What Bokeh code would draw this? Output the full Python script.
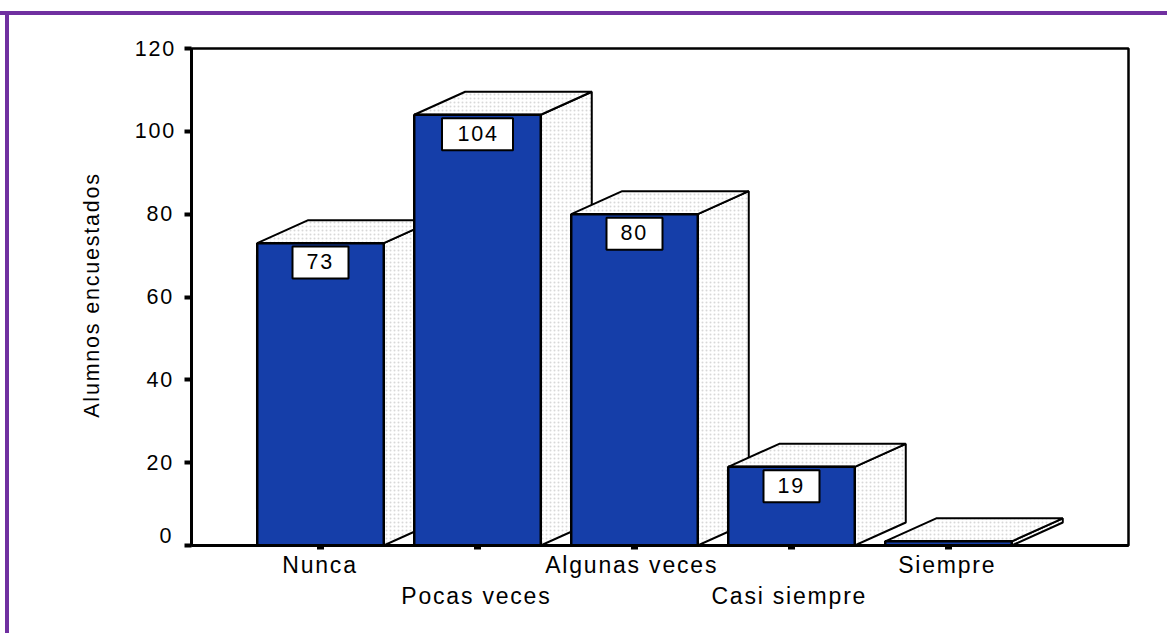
from math import pi
from bokeh.plotting import figure
from bokeh.models import Range1d, LinearAxis, FixedTicker
from bokeh.core.properties import value
from bokeh.embed import file_html
from bokeh.resources import INLINE

categories = ["Nunca", "Pocas veces", "Algunas veces", "Casi siempre", "Siempre"]
counts = [73, 104, 80, 19, 1]
shown_labels = ["73", "104", "80", "19", None]
y_ticks = [20, 40, 60, 80, 100, 120]
zero_tick = [0]
y_title = "Alumnos encuestados"
label_nudge_px = [-5, -11, -14.5, -13, -7.5]

BLUE = "#153ea9"
PURPLE = "#7030a0"
FONT = "Liberation Sans"
half = 0.403
depth_x = 51 / 157
depth_y = 23 / 4.1417
label_drop = 4.7

W, H = 1167, 633
css = {
    "position": "absolute", "left": "0", "top": "0", "letter-spacing": "1.8px",
    "background-image": f"linear-gradient({PURPLE},{PURPLE}),linear-gradient({PURPLE},{PURPLE})",
    "background-size": "100% 4px,4px 100%",
    "background-position": "0 11px,5px 11px",
    "background-repeat": "no-repeat",
}
p = figure(width=W, height=H, output_backend="svg", toolbar_location=None,
           x_range=Range1d((191 - 320) / 157, (1128 - 320) / 157), y_range=Range1d(0, 120),
           min_border_left=191, min_border_right=39, min_border_top=48, min_border_bottom=88,
           x_axis_type=None, y_axis_type=None, styles=css)
p.grid.visible = False
p.outline_line_color = "black"
p.outline_line_width = 2.5
p.background_fill_color = "white"
p.border_fill_color = None

yaxis = LinearAxis(ticker=FixedTicker(ticks=[0] + y_ticks), major_label_overrides={0: " "})
yaxis.major_label_text_font = FONT
yaxis.major_label_text_font_size = "21.5px"
yaxis.major_label_text_color = "black"
yaxis.major_label_standoff = 14
yaxis.major_tick_in = 0
yaxis.major_tick_out = 7
yaxis.major_tick_line_width = 4
yaxis.minor_tick_line_color = None
yaxis.axis_line_width = 3
p.add_layout(yaxis, "left")

# second left axis: holds the raised "0"
p.extra_y_ranges = {"zero": Range1d(-10 / 4.1417, 120 - 10 / 4.1417)}
y2 = LinearAxis(y_range_name="zero", ticker=FixedTicker(ticks=zero_tick))
y2.axis_line_color = None
y2.major_tick_line_color = None
y2.minor_tick_line_color = None
y2.major_tick_in = 0
y2.major_tick_out = 0
y2.major_label_text_font = FONT
y2.major_label_text_font_size = "21.5px"
y2.major_label_text_color = "black"
y2.major_label_standoff = -40
p.add_layout(y2, "left")

# third left axis: the title as a rotated label, so it can sit off the frame's centre
title_tick = 81.9
y3 = LinearAxis(ticker=FixedTicker(ticks=[title_tick]), major_label_overrides={title_tick: y_title})
y3.axis_line_color = None
y3.major_tick_line_color = None
y3.minor_tick_line_color = None
y3.major_tick_in = 0
y3.major_tick_out = 0
y3.major_label_orientation = pi / 2
y3.major_label_text_font = FONT
y3.major_label_text_font_size = "21.5px"
y3.major_label_text_color = "black"
y3.major_label_standoff = 39
p.add_layout(y3, "left")

idx = list(range(len(categories)))
x0 = LinearAxis(ticker=FixedTicker(ticks=idx), major_label_overrides={i: " " for i in idx})
x0.major_label_text_font_size = "1px"
x0.major_label_standoff = 0
x0.major_tick_in = 0
x0.major_tick_out = 4
x0.major_tick_line_width = 7
x0.minor_tick_line_color = None
x0.axis_line_width = 3
p.add_layout(x0, "below")

label_pos = [round(i + n / 157, 4) for i, n in zip(idx, label_nudge_px)]
for row, standoff in ((0, -2), (1, 2)):
    pos = label_pos[row::2]
    names = categories[row::2]
    ax = LinearAxis(ticker=FixedTicker(ticks=pos), major_label_overrides=dict(zip(pos, names)))
    ax.major_label_text_font = FONT
    ax.major_label_text_font_size = "23px"
    ax.major_label_text_color = "black"
    ax.major_label_orientation = "horizontal"
    ax.axis_line_color = None
    ax.major_tick_line_color = None
    ax.minor_tick_line_color = None
    ax.major_tick_in = 0
    ax.major_tick_out = 0
    ax.major_label_standoff = standoff
    p.add_layout(ax, "below")

for i, v in zip(idx, counts):
    l, r = i - half, i + half
    common = dict(fill_color="white", line_color="black", line_width=2,
                  hatch_pattern="dot", hatch_color="#d8d8d8", hatch_scale=4, hatch_weight=1)
    p.patch([r, r + depth_x, r + depth_x, r], [0, depth_y, v + depth_y, v], **common)
    p.patch([l, l + depth_x, r + depth_x, r], [v, v + depth_y, v + depth_y, v], **common)
    p.quad(left=[l], right=[r], bottom=[0], top=[v], fill_color=BLUE, line_color="black", line_width=2.5)

for i, v, t in zip(idx, counts, shown_labels):
    if t is None:
        continue
    box_w = 71 if len(t) == 3 else 56
    p.rect([i], [v - label_drop], width=box_w, height=32, width_units="screen", height_units="screen",
           fill_color="white", line_color="black", line_width=2)
    p.text([i], [v - label_drop], text=[t], text_align="center", text_baseline="middle",
           x_offset=-2, y_offset=-1, text_font=value(FONT), text_font_size="21.5px", text_color="black")

open("out.html", "w").write(file_html(p, INLINE))
